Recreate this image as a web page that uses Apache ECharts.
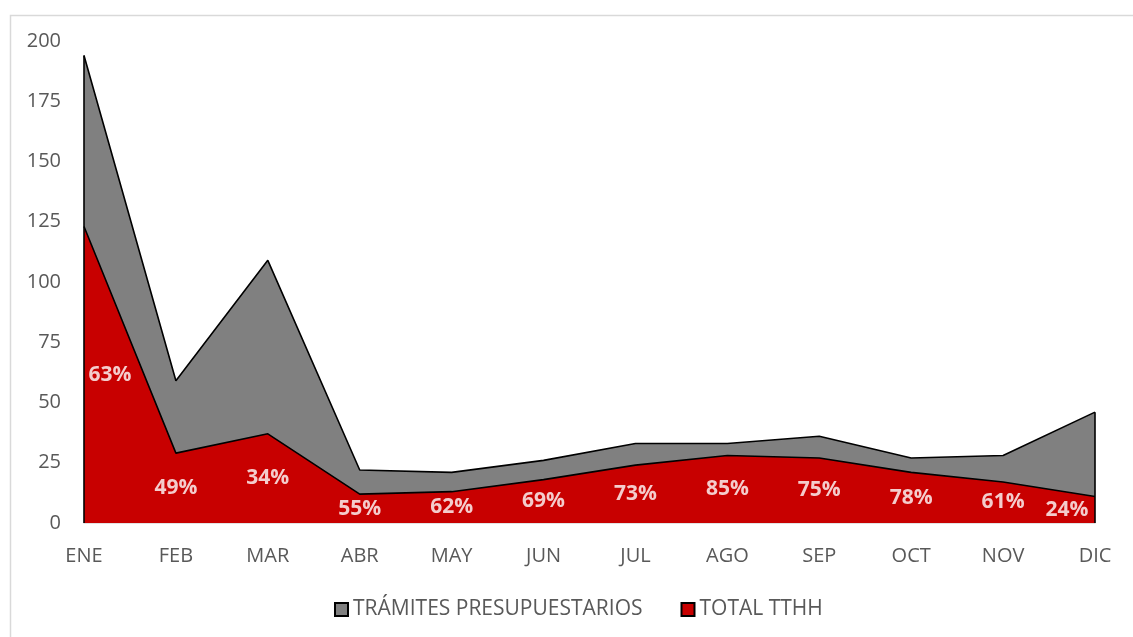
<!DOCTYPE html>
<html>
<head>
<meta charset="utf-8">
<script src="https://cdn.jsdelivr.net/npm/echarts@6/dist/echarts.min.js"></script>
<style>
html,body{margin:0;padding:0;background:#fff;}
#c{width:1133px;height:637px;}
</style>
</head>
<body>
<div id="c"></div>
<script>
var months = ['ENE','FEB','MAR','ABR','MAY','JUN','JUL','AGO','SEP','OCT','NOV','DIC'];
var tramites = [194, 59, 109, 22, 21, 26, 33, 33, 36, 27, 28, 46];
var tthh = [123, 29, 37, 12, 13, 18, 24, 28, 27, 21, 17, 11];
var pct = [63, 49, 34, 55, 62, 69, 73, 85, 75, 78, 61, 24];
var yTicks = {min: 0, max: 200, interval: 25};

var FONT = '"Open Sans", "Noto Sans", sans-serif';
var chart = echarts.init(document.getElementById('c'), null, {renderer: 'canvas'});

var labelData = tthh.map(function (v, i) {
  var item = {value: [i, v / 2]};
  if (i === 0) item.label = {offset: [26, 0]};
  if (i === months.length - 1) item.label = {offset: [-28, 0]};
  return item;
});

var last = months.length - 1;

chart.setOption({
  animation: false,
  backgroundColor: '#fff',
  graphic: [{
    type: 'rect', left: 8, top: 13, silent: true,
    shape: {width: 1200, height: 700},
    style: {fill: 'none', stroke: '#d9d9d9', lineWidth: 1.5}
  }],
  grid: {left: 84, right: 38, top: 41, bottom: 114, containLabel: false},
  legend: {
    data: ['TRÁMITES PRESUPUESTARIOS', 'TOTAL TTHH'],
    left: 329, top: 594,
    itemWidth: 13, itemHeight: 13, itemGap: 38,
    textStyle: {color: '#595959', fontSize: 21, fontFamily: FONT},
    icon: 'rect'
  },
  xAxis: {
    type: 'category', data: months, boundaryGap: false,
    axisLine: {show: true, lineStyle: {color: '#d9d9d9', width: 1.5}},
    axisTick: {show: false},
    axisLabel: {color: '#595959', fontSize: 20, fontFamily: FONT, margin: 23},
    splitLine: {show: false}
  },
  yAxis: {
    type: 'value', min: yTicks.min, max: yTicks.max, interval: yTicks.interval,
    axisLine: {show: false}, axisTick: {show: false},
    splitLine: {show: false},
    axisLabel: {color: '#595959', fontSize: 20, fontFamily: FONT, margin: 23}
  },
  series: [
    {
      name: 'TRÁMITES PRESUPUESTARIOS', type: 'line', data: tramites,
      symbol: 'none', z: 2,
      lineStyle: {color: '#000', width: 1.6},
      itemStyle: {color: '#808080', borderColor: '#000', borderWidth: 1.5},
      areaStyle: {color: '#808080', opacity: 1},
      markLine: {
        silent: true, symbol: 'none', label: {show: false},
        lineStyle: {color: '#000', width: 1.6, type: 'solid'},
        data: [
          [{coord: [0, 0]}, {coord: [0, tramites[0]]}],
          [{coord: [last, 0]}, {coord: [last, tramites[last]]}]
        ]
      }
    },
    {
      name: 'TOTAL TTHH', type: 'line', data: tthh,
      symbol: 'none', z: 3,
      lineStyle: {color: '#000', width: 1.6},
      itemStyle: {color: '#c80000', borderColor: '#000', borderWidth: 1.5},
      areaStyle: {color: '#c80000', opacity: 1}
    },
    {
      type: 'scatter', data: labelData, symbolSize: 0, z: 5, silent: true,
      label: {
        show: true, position: 'inside',
        formatter: function (p) { return pct[p.dataIndex] + '%'; },
        color: '#fff', fontSize: 21, fontWeight: 'bold', fontFamily: FONT
      }
    }
  ]
});
</script>
</body>
</html>
